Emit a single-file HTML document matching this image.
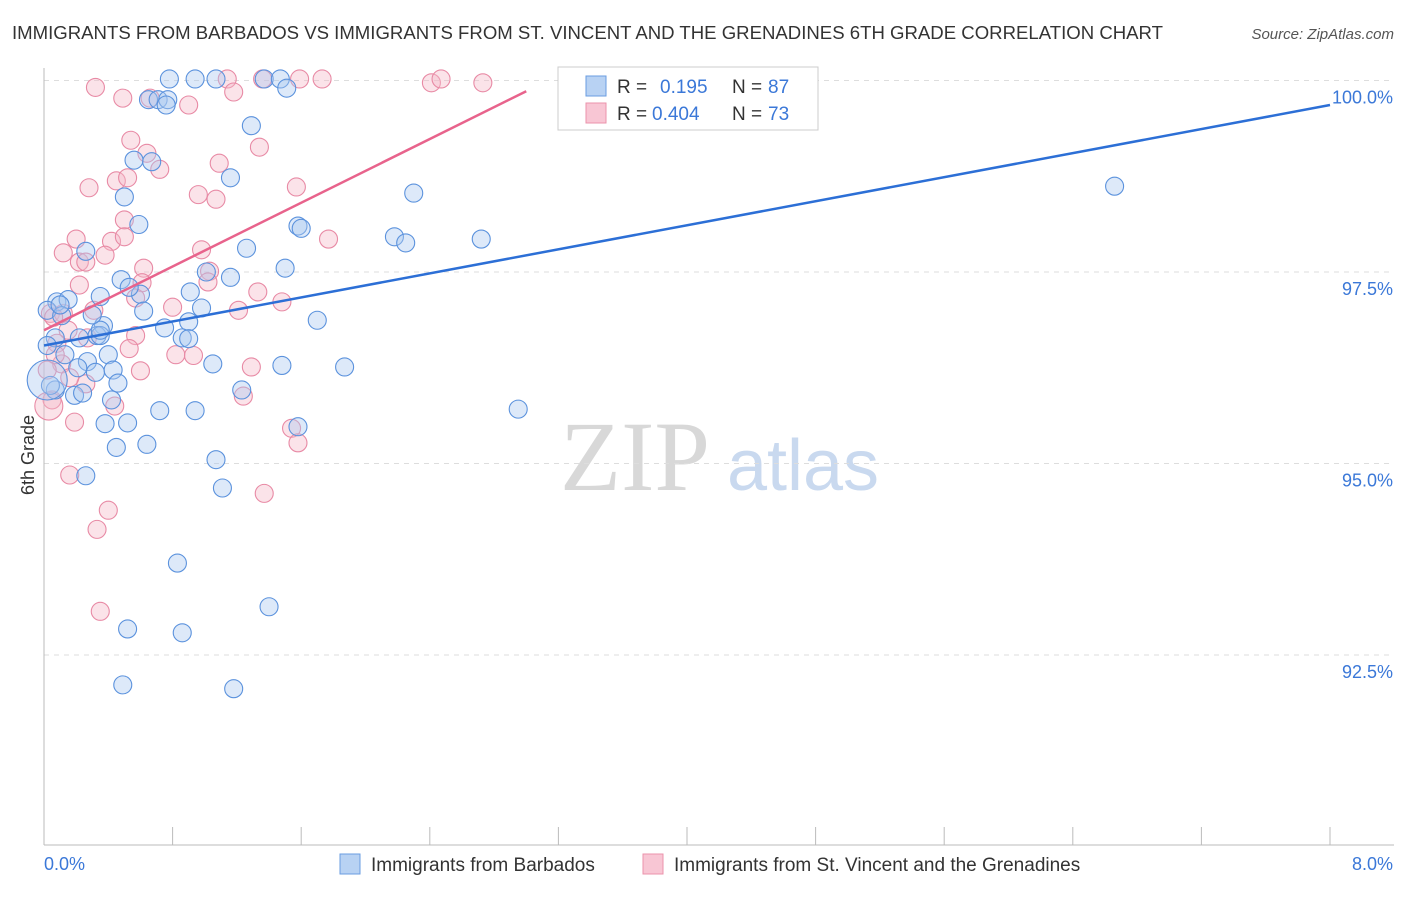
<!DOCTYPE html>
<html><head><meta charset="utf-8"><style>
body{margin:0;background:#fff;font-family:"Liberation Sans",sans-serif;}
</style></head><body>
<svg id="chart" width="1406" height="892" xmlns="http://www.w3.org/2000/svg" font-family="Liberation Sans, sans-serif">
<text x="12" y="39" font-size="18" fill="#333" textLength="1151" lengthAdjust="spacingAndGlyphs">IMMIGRANTS FROM BARBADOS VS IMMIGRANTS FROM ST. VINCENT AND THE GRENADINES 6TH GRADE CORRELATION CHART</text>
<text x="1394" y="39" font-size="15" fill="#555" font-style="italic" text-anchor="end">Source: ZipAtlas.com</text>
<g>
<text x="635" y="490" font-size="100" style="font-family:'Liberation Serif',serif" fill="#d8d8d8" text-anchor="middle">ZIP</text>
<text x="803" y="490" font-size="72" fill="#c9d9ef" text-anchor="middle">atlas</text>
</g>
<g id="grid"></g>
<g id="axes"></g>
<g id="pts"></g>
<g id="lines"></g>
<text x="34" y="455" font-size="18" fill="#333" text-anchor="middle" transform="rotate(-90 34 455)">6th Grade</text>
<g>
<rect x="558" y="67" width="260" height="63" fill="#fff" stroke="#ccc"/>
<rect x="586" y="76" width="20" height="20" fill="#b8d2f3" stroke="#6a9ce0"/>
<rect x="586" y="103" width="20" height="20" fill="#f8c6d4" stroke="#eb93ab"/>
<text x="617" y="93" font-size="19" fill="#333">R = </text><text x="660" y="93" font-size="19" fill="#3b78d8">0.195</text>
<text x="732" y="93" font-size="19" fill="#333">N = </text><text x="768" y="93" font-size="19" fill="#3b78d8">87</text>
<text x="617" y="120" font-size="19" fill="#333">R = </text><text x="652" y="120" font-size="19" fill="#3b78d8">0.404</text>
<text x="732" y="120" font-size="19" fill="#333">N = </text><text x="768" y="120" font-size="19" fill="#3b78d8">73</text>
</g>
<g>
<rect x="340" y="854" width="20" height="20" fill="#b8d2f3" stroke="#6a9ce0"/>
<text x="371" y="871" font-size="19" fill="#333">Immigrants from Barbados</text>
<rect x="643" y="854" width="20" height="20" fill="#f8c6d4" stroke="#eb93ab"/>
<text x="674" y="871" font-size="19" fill="#333">Immigrants from St. Vincent and the Grenadines</text>
</g>
</svg>
<script>
const blueX=[0.78,0.94,1.07,1.37,1.47,1.51,0.65,0.71,0.77,0.76,1.29,0.56,0.67,1.16,0.50,2.30,6.66,0.59,1.58,1.60,2.18,2.25,2.72,0.26,1.26,1.50,1.01,0.48,1.16,0.08,0.15,0.35,0.60,0.91,0.98,0.62,1.70,0.02,0.11,0.37,0.75,0.90,0.07,0.22,0.33,0.35,0.86,0.90,0.02,0.13,0.40,0.27,1.05,1.48,1.87,0.21,0.32,0.43,0.46,1.23,0.07,0.19,0.24,0.42,0.72,0.94,2.95,0.38,0.52,1.58,0.45,0.64,1.07,0.26,1.11,0.83,1.40,0.52,0.86,0.49,1.18,0.04,0.02,0.35,0.10,0.53,0.30];
const blueY=[100.02,100.02,100.02,100.02,100.02,99.90,99.75,99.75,99.75,99.68,99.41,98.96,98.94,98.73,98.48,98.53,98.62,98.12,98.10,98.07,97.96,97.88,97.93,97.77,97.81,97.55,97.50,97.40,97.43,97.11,97.14,97.18,97.21,97.24,97.03,96.99,96.87,97.00,96.93,96.80,96.77,96.85,96.64,96.64,96.67,96.67,96.64,96.63,96.54,96.42,96.42,96.33,96.30,96.28,96.26,96.25,96.19,96.22,96.05,95.96,95.96,95.89,95.92,95.83,95.69,95.69,95.71,95.52,95.53,95.48,95.21,95.25,95.05,94.84,94.68,93.70,93.13,92.84,92.79,92.11,92.06,96.02,96.09,96.74,97.07,97.30,96.94];
const pinkX=[0.32,0.49,0.66,0.90,1.14,1.36,1.59,1.73,2.41,2.47,2.73,0.54,1.34,0.64,0.72,1.09,0.45,0.52,0.28,0.96,1.07,1.57,0.50,0.20,0.42,0.50,0.12,0.38,0.98,1.77,0.22,0.26,0.62,1.03,0.22,0.61,1.02,1.33,1.48,0.57,0.31,0.80,1.21,0.04,0.12,0.15,0.57,0.08,0.27,0.53,0.82,0.93,0.11,0.60,1.29,0.26,1.24,0.44,0.05,0.03,0.19,1.54,1.58,0.16,1.37,0.40,0.33,0.35,0.07,0.06,0.02,0.16,1.18];
const pinkY=[99.91,99.77,99.77,99.68,100.02,100.02,100.02,100.02,99.97,100.02,99.97,99.22,99.13,99.05,98.84,98.92,98.69,98.73,98.60,98.51,98.45,98.61,98.18,97.93,97.90,97.96,97.75,97.72,97.79,97.93,97.63,97.63,97.55,97.51,97.33,97.36,97.37,97.24,97.11,97.16,97.00,97.04,97.00,96.96,96.96,96.74,96.67,96.57,96.64,96.50,96.42,96.41,96.30,96.21,96.26,96.04,95.88,95.75,95.83,95.75,95.54,95.46,95.27,94.85,94.61,94.39,94.14,93.07,96.42,96.91,96.22,96.12,99.85];
const yTicks=[100,97.5,95,92.5];
const yTickLabels=["100.0%","97.5%","95.0%","92.5%"];
const xTicks=[0,0.8,1.6,2.4,3.2,4,4.8,5.6,6.4,7.2,8];
const blueLine=[[0,96.54],[8,99.68]];
const pinkLine=[[0,96.74],[3,99.86]];
const sx=v=>44+v/8*1286;
const sy=v=>80.5+(100-v)*76.6;
const NS="http://www.w3.org/2000/svg";
function mk(tag,attrs,parent){const e=document.createElementNS(NS,tag);for(const k in attrs)e.setAttribute(k,attrs[k]);document.getElementById(parent).appendChild(e);return e;}
yTicks.forEach((t,i)=>{
 const g=mk('line',{x1:44,x2:1394,y1:sy(t),y2:sy(t),stroke:'#ddd','stroke-dasharray':'5,5'},'grid');
 
 
 const tx=mk('text',{x:1393,y:sy(t)+23,'font-size':18,fill:'#3b78d8','text-anchor':'end'},'grid');
 tx.textContent=yTickLabels[i];
 
 
});
const ax=mk('line',{x1:44,x2:44,y1:68,y2:845,stroke:'#bbb'},'axes');


const bx=mk('line',{x1:44,x2:1394,y1:845,y2:845,stroke:'#bbb'},'axes');


xTicks.forEach(t=>{const l=mk('line',{x1:sx(t),x2:sx(t),y1:827,y2:845,stroke:'#bbb'},'axes');
 
 });
const l0=mk('text',{x:44,y:870,'font-size':18,fill:'#3b78d8'},'axes');l0.textContent='0.0%';


const l1=mk('text',{x:1393,y:870,'font-size':18,fill:'#3b78d8','text-anchor':'end'},'axes');l1.textContent='8.0%';


function pts(X,Y,fill,stroke,name,bigIdx,bigR){
 X.forEach((x,i)=>{const c=mk('circle',{cx:sx(x),cy:sy(Y[i]),r:i===bigIdx?bigR:9,fill:fill,'fill-opacity':0.4,stroke:stroke,'stroke-width':1.1},'pts');
 
 });
}
pts(pinkX,pinkY,'#f6b8c9','#e88aa5','point-st-vincent',59,14);
pts(blueX,blueY,'#a9c8f0','#5b92dd','point-barbados',82,20);
const bl=mk('line',{x1:sx(blueLine[0][0]),y1:sy(blueLine[0][1]),x2:sx(blueLine[1][0]),y2:sy(blueLine[1][1]),stroke:'#2c6fd6','stroke-width':2.5},'lines');


const pl=mk('line',{x1:sx(pinkLine[0][0]),y1:sy(pinkLine[0][1]),x2:sx(pinkLine[1][0]),y2:sy(pinkLine[1][1]),stroke:'#e8638c','stroke-width':2.5},'lines');


</script>
</body></html>
